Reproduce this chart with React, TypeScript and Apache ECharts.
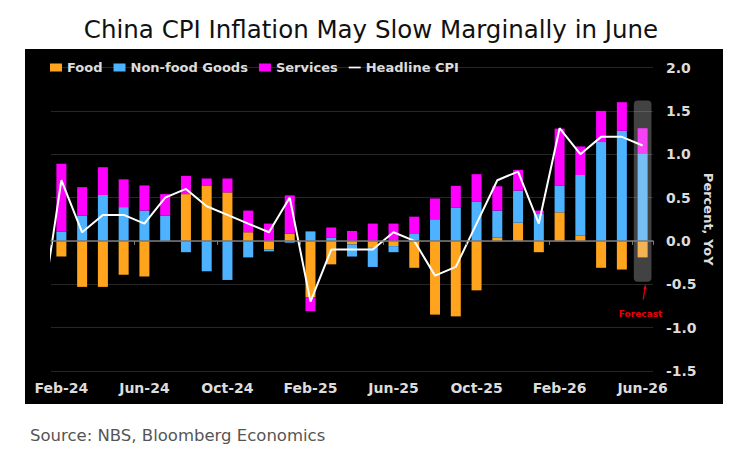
import React, { useEffect, useRef } from "react";
import * as echarts from "echarts";

// Months shown on the category axis
const months = [
  "Feb-24", "Mar-24", "Apr-24", "May-24", "Jun-24", "Jul-24", "Aug-24", "Sep-24", "Oct-24", "Nov-24", "Dec-24",
  "Jan-25", "Feb-25", "Mar-25", "Apr-25", "May-25", "Jun-25", "Jul-25", "Aug-25", "Sep-25", "Oct-25", "Nov-25", "Dec-25",
  "Jan-26", "Feb-26", "Mar-26", "Apr-26", "May-26", "Jun-26",
];

// Contributions to CPI, percentage points
const food = [
  -0.18, -0.53, -0.53, -0.39, -0.41, 0.0, 0.54, 0.64, 0.56, 0.1, -0.1,
  0.085, -0.65, -0.27, -0.04, -0.07, -0.06, -0.31, -0.85, -0.87, -0.57, 0.04, 0.21,
  -0.13, 0.33, 0.06, -0.31, -0.33, -0.19,
];
const nonFoodGoods = [
  0.11, 0.29, 0.53, 0.39, 0.35, 0.29, -0.13, -0.35, -0.45, -0.19, -0.02,
  -0.02, 0.11, 0.035, -0.14, -0.23, -0.07, 0.08, 0.25, 0.385, 0.45, 0.31, 0.37,
  0.31, 0.31, 0.7, 1.14, 1.27, 1.01,
];
const services = [
  0.78, 0.33, 0.32, 0.32, 0.29, 0.25, 0.21, 0.08, 0.16, 0.25, 0.2,
  0.44, -0.16, 0.12, 0.115, 0.2, 0.2, 0.2, 0.24, 0.25, 0.32, 0.28, 0.24,
  0.04, 0.655, 0.33, 0.36, 0.33, 0.29,
];

// Headline CPI, % YoY (the month before the first category lets the line enter from the edge)
const headlineJan24 = -0.9;
const headline = [
  0.7, 0.1, 0.3, 0.3, 0.2, 0.5, 0.6, 0.4, 0.3, 0.2, 0.1,
  0.5, -0.7, -0.1, -0.1, -0.1, 0.1, 0.0, -0.4, -0.3, 0.2, 0.7, 0.8,
  0.2, 1.3, 1.0, 1.2, 1.2, 1.1,
];

// Y-axis ticks
const yMin = -1.5;
const yMax = 2.0;
const yStep = 0.5;

// Forecast highlight
const forecastMonth = "Jun-26";
const forecastTop = 1.62;
const forecastBottom = -0.47;

const FONT = "DejaVu Sans";
const C_FOOD = "#FFA41C";
const C_NONFOOD = "#4DB2FF";
const C_SERVICES = "#FF00FF";
const C_TEXT = "#dcdcdc";
const C_RED = "#e8000b";

export default function App() {
  const ref = useRef<HTMLDivElement>(null);

  useEffect(() => {
    if (!ref.current) return;
    const chart = echarts.init(ref.current, undefined, { renderer: "svg" });

    const lineData = [headlineJan24, ...headline].map((v, i) => [i - 1, v]);
    const fIdx = months.indexOf(forecastMonth);

    const barBase = {
      type: "bar",
      stack: "cpi",
      barWidth: 10,
      xAxisIndex: 0,
      yAxisIndex: 0,
      z: 2,
    };

    chart.setOption({
      animation: false,
      backgroundColor: "#ffffff",
      title: [
        {
          text: "China CPI Inflation May Slow Marginally in June",
          left: "center",
          top: 12,
          textStyle: { fontFamily: FONT, fontSize: 24.5, fontWeight: "normal", color: "#111111" },
        },
        {
          text: "Source: NBS, Bloomberg Economics",
          left: 25,
          top: 422,
          textStyle: { fontFamily: FONT, fontSize: 16.5, fontWeight: "normal", color: "#555555" },
        },
      ],
      graphic: [
        {
          type: "rect",
          left: 25,
          top: 49,
          z: -10,
          shape: { width: 698, height: 355 },
          style: { fill: "#000000" },
        },
      ],
      legend: {
        left: 50,
        top: 61,
        padding: 0,
        itemWidth: 12,
        itemHeight: 8,
        itemGap: 11,
        textStyle: { fontFamily: FONT, fontSize: 13, fontWeight: "bold", color: C_TEXT },
        data: [
          { name: "Food", icon: "rect" },
          { name: "Non-food Goods", icon: "rect" },
          { name: "Services", icon: "rect" },
          { name: "Headline CPI", icon: "path://M0,0H14V2H0Z" },
        ],
      },
      grid: { left: 51, right: 89, top: 67.5, bottom: 85 },
      xAxis: [
        {
          type: "category",
          data: months,
          position: "bottom",
          axisLine: { show: false, onZero: false },
          axisTick: { show: false },
          splitLine: { show: false },
          axisLabel: {
            interval: 3,
            margin: 10,
            color: C_TEXT,
            fontFamily: FONT,
            fontSize: 14,
            fontWeight: "bold",
          },
        },
        {
          type: "category",
          data: months,
          position: "bottom",
          z: 5,
          axisLine: { show: true, onZero: true, lineStyle: { color: "#7a7a7a", width: 1.5 } },
          axisTick: { show: true, interval: 3, length: 4, lineStyle: { color: "#7a7a7a" } },
          axisLabel: { show: false },
          splitLine: { show: false },
        },
        {
          type: "value",
          min: -0.5,
          max: months.length - 0.5,
          show: false,
          axisLine: { onZero: false },
          splitLine: { show: false },
        },
      ],
      yAxis: {
        type: "value",
        position: "right",
        min: yMin,
        max: yMax,
        interval: yStep,
        name: "Percent, YoY",
        nameLocation: "middle",
        nameRotate: -90,
        nameGap: 49,
        nameMoveOverlap: false,
        nameTextStyle: { fontFamily: FONT, fontSize: 13, fontWeight: "bold", color: C_TEXT },
        axisLine: { show: false, onZero: false },
        axisTick: { show: false },
        splitLine: { show: true, lineStyle: { color: "#262626", width: 1 } },
        axisLabel: {
          margin: 13,
          color: C_TEXT,
          fontFamily: FONT,
          fontSize: 14,
          fontWeight: "bold",
          formatter: (v: number) => v.toFixed(1),
        },
      },
      series: [
        { ...barBase, name: "Food", data: food, itemStyle: { color: C_FOOD } },
        { ...barBase, name: "Non-food Goods", data: nonFoodGoods, itemStyle: { color: C_NONFOOD } },
        { ...barBase, name: "Services", data: services, itemStyle: { color: C_SERVICES } },
        {
          type: "custom",
          name: "Forecast",
          xAxisIndex: 0,
          yAxisIndex: 0,
          z: 3,
          clip: false,
          encode: { x: 0, y: [1, 2] },
          data: [[fIdx, forecastTop, forecastBottom]],
          renderItem: (_params: any, api: any) => {
            const idx = api.value(0);
            const hi = api.coord([idx, api.value(1)]);
            const lo = api.coord([idx, api.value(2)]);
            const band = api.size([1, 0])[0];
            const w = band * 0.85;
            const cx = hi[0];
            const y0 = hi[1];
            const y1 = lo[1];
            return {
              type: "group",
              children: [
                {
                  type: "rect",
                  shape: { x: cx - w / 2, y: y0, width: w, height: y1 - y0, r: 4 },
                  style: { fill: "rgba(220,220,220,0.3)" },
                },
                {
                  type: "line",
                  shape: { x1: cx + 0.6, y1: y1 + 18, x2: cx + 2.4, y2: y1 + 6 },
                  style: { stroke: C_RED, lineWidth: 1.2 },
                },
                {
                  type: "polygon",
                  shape: { points: [[cx + 2.7, y1 + 2.5], [cx + 0.7, y1 + 7.5], [cx + 4.3, y1 + 7.8]] },
                  style: { fill: C_RED },
                },
                {
                  type: "text",
                  x: cx - 2,
                  y: y1 + 32,
                  style: {
                    text: "Forecast",
                    fill: C_RED,
                    font: `bold 9px "${FONT}"`,
                    align: "center",
                    verticalAlign: "middle",
                  },
                },
              ],
            };
          },
        },
        {
          type: "line",
          name: "Headline CPI",
          xAxisIndex: 2,
          yAxisIndex: 0,
          z: 4,
          data: lineData,
          symbol: "none",
          clip: true,
          itemStyle: { color: "#ffffff" },
          lineStyle: { color: "#ffffff", width: 2 },
        },
      ],
    });

    return () => chart.dispose();
  }, []);

  return (
    <div
      ref={ref}
      style={{ position: "absolute", left: 0, top: 0, width: 742, height: 456 }}
    />
  );
}
